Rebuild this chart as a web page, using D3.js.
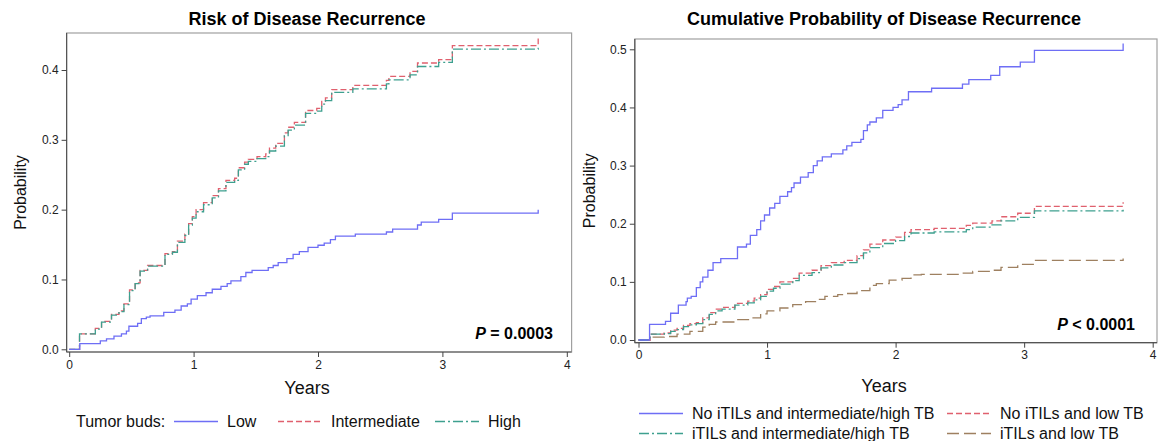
<!DOCTYPE html>
<html>
<head>
<meta charset="utf-8">
<script src="https://cdn.jsdelivr.net/npm/d3@7"></script>
<style>
  body { margin: 0; background: #fff; }
  svg { display: block; font-family: Arial, 'Liberation Sans', sans-serif; }
  .tick text { font-family: 'Liberation Sans Narrow', 'Arial Narrow', Arial, sans-serif; font-size: 12px; fill: #222; }
  .tick line { stroke: #444; }
</style>
</head>
<body>
<div id="chart"></div>
<script>
// Left panel: tumor buds groups (years, cumulative probability)
const budsLow = [[0,0],[0.085,0.008],[0.25,0.012],[0.3,0.015],[0.36,0.019],[0.42,0.022],[0.46,0.026],[0.48,0.033],[0.55,0.037],[0.58,0.044],[0.62,0.046],[0.65,0.048],[0.76,0.053],[0.85,0.056],[0.9,0.062],[0.95,0.065],[0.98,0.072],[1.03,0.077],[1.1,0.081],[1.15,0.086],[1.22,0.09],[1.27,0.094],[1.3,0.098],[1.38,0.104],[1.42,0.11],[1.47,0.113],[1.6,0.117],[1.64,0.12],[1.68,0.124],[1.75,0.13],[1.8,0.136],[1.85,0.14],[1.92,0.146],[2.0,0.149],[2.05,0.152],[2.1,0.157],[2.14,0.162],[2.3,0.165],[2.55,0.168],[2.6,0.172],[2.8,0.178],[2.83,0.182],[2.97,0.186],[3.08,0.195],[3.77,0.2]];
const budsIntermediate = [[0,0],[0.083,0.022],[0.21,0.03],[0.26,0.04],[0.34,0.05],[0.4,0.055],[0.44,0.065],[0.485,0.085],[0.53,0.095],[0.57,0.113],[0.63,0.12],[0.77,0.137],[0.83,0.14],[0.87,0.155],[0.93,0.165],[0.96,0.18],[0.99,0.19],[1.02,0.2],[1.08,0.21],[1.15,0.22],[1.2,0.23],[1.26,0.242],[1.33,0.245],[1.36,0.26],[1.41,0.268],[1.44,0.272],[1.51,0.276],[1.58,0.28],[1.61,0.288],[1.66,0.295],[1.73,0.31],[1.76,0.318],[1.81,0.325],[1.9,0.342],[1.99,0.345],[2.03,0.355],[2.06,0.36],[2.11,0.372],[2.28,0.378],[2.55,0.385],[2.57,0.391],[2.74,0.398],[2.8,0.41],[2.97,0.415],[3.08,0.435],[3.77,0.445]];
const budsHigh = [[0,0],[0.083,0.022],[0.21,0.029],[0.26,0.039],[0.34,0.049],[0.4,0.054],[0.44,0.064],[0.485,0.084],[0.53,0.094],[0.57,0.112],[0.63,0.119],[0.77,0.136],[0.83,0.139],[0.87,0.153],[0.93,0.163],[0.96,0.178],[0.99,0.188],[1.02,0.197],[1.08,0.207],[1.15,0.217],[1.2,0.227],[1.26,0.239],[1.33,0.242],[1.36,0.257],[1.41,0.265],[1.44,0.269],[1.51,0.273],[1.58,0.276],[1.61,0.284],[1.66,0.291],[1.73,0.306],[1.76,0.314],[1.81,0.321],[1.9,0.338],[1.99,0.341],[2.03,0.351],[2.06,0.356],[2.11,0.368],[2.28,0.373],[2.55,0.38],[2.57,0.386],[2.74,0.393],[2.8,0.405],[2.97,0.411],[3.08,0.43],[3.77,0.432]];

// Right panel: iTILs x tumor buds groups
const noItilsHighTb = [[0,0],[0.086,0.027],[0.21,0.032],[0.25,0.046],[0.31,0.06],[0.37,0.066],[0.38,0.072],[0.41,0.075],[0.45,0.09],[0.48,0.1],[0.5,0.108],[0.54,0.12],[0.58,0.133],[0.64,0.14],[0.77,0.16],[0.84,0.165],[0.87,0.18],[0.92,0.19],[0.95,0.205],[0.98,0.215],[1.02,0.227],[1.06,0.235],[1.1,0.247],[1.16,0.255],[1.19,0.262],[1.21,0.27],[1.26,0.28],[1.32,0.288],[1.36,0.3],[1.39,0.308],[1.43,0.315],[1.5,0.32],[1.59,0.327],[1.62,0.334],[1.66,0.34],[1.73,0.345],[1.75,0.36],[1.78,0.37],[1.8,0.375],[1.85,0.382],[1.9,0.395],[1.98,0.4],[2.02,0.405],[2.05,0.413],[2.1,0.427],[2.28,0.433],[2.52,0.44],[2.57,0.448],[2.74,0.455],[2.81,0.47],[2.97,0.478],[3.08,0.498],[3.77,0.51]];
const noItilsLowTb = [[0,0],[0.09,0.01],[0.2,0.012],[0.25,0.017],[0.3,0.02],[0.35,0.025],[0.4,0.028],[0.45,0.03],[0.5,0.038],[0.55,0.047],[0.6,0.053],[0.65,0.056],[0.75,0.063],[0.85,0.067],[0.9,0.072],[0.95,0.078],[1.0,0.087],[1.05,0.092],[1.1,0.1],[1.2,0.106],[1.25,0.115],[1.35,0.12],[1.42,0.128],[1.5,0.133],[1.6,0.137],[1.7,0.145],[1.75,0.155],[1.8,0.165],[1.9,0.172],[2.0,0.177],[2.07,0.185],[2.12,0.19],[2.3,0.192],[2.55,0.197],[2.6,0.201],[2.75,0.205],[2.82,0.212],[2.95,0.218],[3.08,0.23],[3.77,0.237]];
const itilsHighTb = [[0,0],[0.09,0.01],[0.2,0.011],[0.25,0.015],[0.3,0.018],[0.35,0.023],[0.4,0.026],[0.45,0.028],[0.5,0.035],[0.55,0.044],[0.6,0.05],[0.65,0.053],[0.75,0.06],[0.85,0.064],[0.9,0.069],[0.95,0.075],[1.0,0.084],[1.05,0.089],[1.1,0.096],[1.2,0.102],[1.25,0.111],[1.35,0.116],[1.42,0.124],[1.5,0.129],[1.6,0.133],[1.7,0.14],[1.75,0.15],[1.8,0.159],[1.9,0.166],[2.0,0.171],[2.07,0.178],[2.12,0.184],[2.3,0.186],[2.55,0.19],[2.6,0.194],[2.75,0.198],[2.82,0.205],[2.95,0.211],[3.08,0.222],[3.77,0.224]];
const itilsLowTb = [[0,0],[0.09,0.005],[0.2,0.006],[0.3,0.01],[0.4,0.015],[0.5,0.022],[0.55,0.027],[0.6,0.031],[0.75,0.035],[0.87,0.038],[0.95,0.045],[1.0,0.05],[1.1,0.055],[1.2,0.061],[1.3,0.066],[1.4,0.07],[1.45,0.075],[1.55,0.078],[1.6,0.08],[1.7,0.085],[1.8,0.094],[1.85,0.097],[1.95,0.103],[2.05,0.106],[2.12,0.112],[2.2,0.113],[2.5,0.115],[2.6,0.118],[2.75,0.12],[2.82,0.125],[2.95,0.13],[3.08,0.137],[3.77,0.14]];

const xTicks = [0, 1, 2, 3, 4];
const yTicksLeft = [0, 0.1, 0.2, 0.3, 0.4];
const yTicksRight = [0, 0.1, 0.2, 0.3, 0.4, 0.5];

const blue = "#6e6ef5", red = "#e0606e", teal = "#3ea08f", brown = "#9e8060";

const svg = d3.select("#chart").append("svg")
    .attr("width", 1160)
    .attr("height", 441);

function panel(opt) {
    const g = svg.append("g");
    const x = d3.scaleLinear().domain([0, 4]).range(opt.xRange);
    const y = d3.scaleLinear().domain([0, opt.yMax]).range(opt.yRange);

    // frame
    g.append("rect")
        .attr("x", opt.frame[0]).attr("y", opt.frame[1])
        .attr("width", opt.frame[2] - opt.frame[0]).attr("height", opt.frame[3] - opt.frame[1])
        .attr("fill", "none").attr("stroke", "#a0a0a0").attr("stroke-width", 1.2);
    g.append("line").attr("x1", opt.frame[0]).attr("x2", opt.frame[0])
        .attr("y1", opt.frame[1]).attr("y2", opt.frame[3]).attr("stroke", "#555").attr("stroke-width", 1.2);
    g.append("line").attr("x1", opt.frame[0]).attr("x2", opt.frame[2])
        .attr("y1", opt.frame[3]).attr("y2", opt.frame[3]).attr("stroke", "#555").attr("stroke-width", 1.2);

    // axes
    g.append("g")
        .attr("transform", `translate(${opt.frame[0]},0)`)
        .call(d3.axisLeft(y).tickValues(opt.yTicks).tickFormat(d3.format(".1f")).tickSize(5).tickPadding(3))
        .call(a => a.select(".domain").remove());
    g.append("g")
        .attr("transform", `translate(0,${opt.frame[3]})`)
        .call(d3.axisBottom(x).tickValues(xTicks).tickFormat(d3.format("d")).tickSize(5).tickPadding(3))
        .call(a => a.select(".domain").remove());

    // curves
    const line = d3.line()
        .x(d => x(d[0]))
        .y(d => y(d[1]))
        .curve(d3.curveStepAfter);

    opt.series.forEach(s => {
        g.append("path")
            .datum(s.data)
            .attr("d", line)
            .attr("fill", "none")
            .attr("stroke", s.color)
            .attr("stroke-width", 1.3)
            .attr("stroke-dasharray", s.dash);
    });

    // titles
    g.append("text")
        .attr("x", opt.titleX).attr("y", 25)
        .attr("text-anchor", "middle")
        .style("font-size", "18px").style("font-weight", "bold")
        .text(opt.title);
    g.append("text")
        .attr("x", opt.titleX).attr("y", opt.yearsY)
        .attr("text-anchor", "middle")
        .style("font-size", "18px").style("fill", "#111")
        .text("Years");
    g.append("text")
        .attr("transform", `translate(${opt.probX},${(opt.frame[1] + opt.frame[3]) / 2}) rotate(-90)`)
        .attr("text-anchor", "middle")
        .style("font-size", "16px").style("fill", "#111")
        .text("Probability");

    // p value
    const p = g.append("text")
        .attr("x", opt.pX).attr("y", opt.pY)
        .attr("text-anchor", "end")
        .style("font-size", "16px").style("font-weight", "bold");
    p.append("tspan").style("font-style", "italic").text("P");
    p.append("tspan").text(opt.pText);

    return g;
}

panel({
    xRange: [69.2, 566.8], yRange: [349.3, 70], yMax: 0.4,
    frame: [66.6, 33, 571.6, 352],
    yTicks: yTicksLeft,
    title: "Risk of Disease Recurrence", titleX: 307, yearsY: 394, probX: 26,
    pX: 553, pY: 339, pText: " = 0.0003",
    series: [
        { data: budsIntermediate, color: red, dash: "6,3" },
        { data: budsHigh, color: teal, dash: "10,3,2,3" },
        { data: budsLow, color: blue, dash: null }
    ]
});

panel({
    xRange: [638.5, 1152.7], yRange: [340, 49.3], yMax: 0.5,
    frame: [634.8, 39, 1157, 342.7],
    yTicks: yTicksRight,
    title: "Cumulative Probability of Disease Recurrence", titleX: 884, yearsY: 392, probX: 595,
    pX: 1135, pY: 330, pText: " < 0.0001",
    series: [
        { data: itilsLowTb, color: brown, dash: "12,5" },
        { data: noItilsLowTb, color: red, dash: "6,3" },
        { data: itilsHighTb, color: teal, dash: "10,3,2,3" },
        { data: noItilsHighTb, color: blue, dash: null }
    ]
});

// legends
function legendItem(x, y, color, dash, label) {
    svg.append("line")
        .attr("x1", x).attr("x2", x + 44).attr("y1", y - 5.5).attr("y2", y - 5.5)
        .attr("stroke", color).attr("stroke-width", 1.3).attr("stroke-dasharray", dash);
    svg.append("text")
        .attr("x", x + 53).attr("y", y)
        .style("font-size", "16px").style("fill", "#111")
        .text(label);
}

svg.append("text").attr("x", 76).attr("y", 427)
    .style("font-size", "16px").style("fill", "#111").text("Tumor buds:");
const leftLegend = [
    { x: 174, color: blue, dash: null, label: "Low" },
    { x: 278, color: red, dash: "6,3", label: "Intermediate" },
    { x: 435, color: teal, dash: "10,3,2,3", label: "High" }
];
leftLegend.forEach(d => legendItem(d.x, 427, d.color, d.dash, d.label));

const rightLegend = [
    { x: 639, y: 419, color: blue, dash: null, label: "No iTILs and intermediate/high TB" },
    { x: 947, y: 419, color: red, dash: "6,3", label: "No iTILs and low TB" },
    { x: 639, y: 439, color: teal, dash: "10,3,2,3", label: "iTILs and intermediate/high TB" },
    { x: 947, y: 439, color: brown, dash: "12,5", label: "iTILs and low TB" }
];
rightLegend.forEach(d => legendItem(d.x, d.y, d.color, d.dash, d.label));
</script>
</body>
</html>
